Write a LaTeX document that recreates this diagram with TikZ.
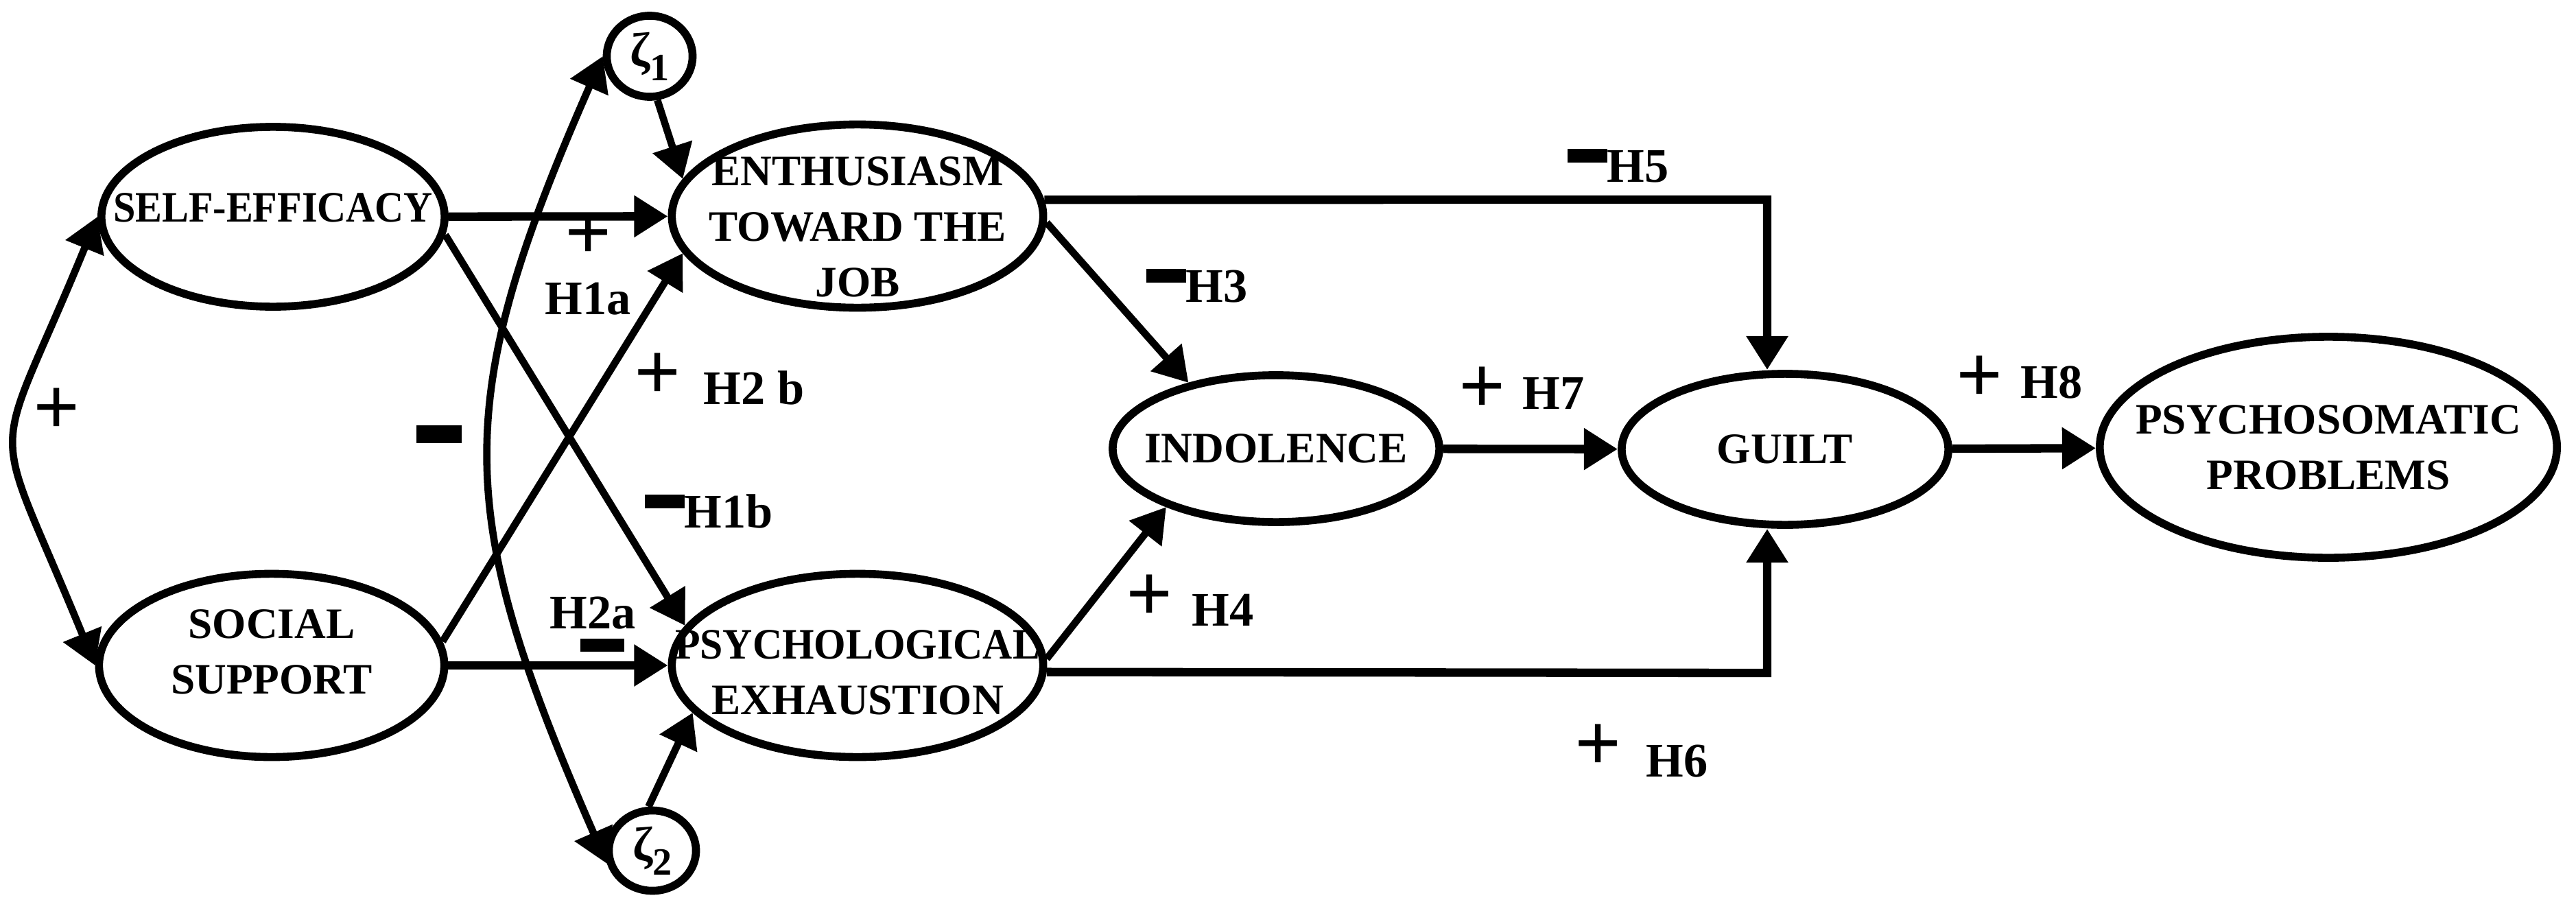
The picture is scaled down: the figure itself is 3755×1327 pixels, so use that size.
\documentclass[tikz,border=0pt]{standalone}
\usepackage{fontspec}
\setmainfont{Liberation Serif}
\usetikzlibrary{shapes.geometric,arrows.meta}
\newcommand{\minusbar}{\rule[8pt]{16.5pt}{5.6pt}}

\begin{document}
\begin{tikzpicture}[x=0.01cm,y=-0.01cm,
  latent/.style={draw,ellipse,line width=3.3pt,inner sep=0pt},
  vartext/.style={font=\fontsize{18}{23}\selectfont\bfseries,align=center},
  effect/.style={->,>={Triangle[length=14pt,width=16.5pt]},line width=3pt},
  strong/.style={effect,line width=3.5pt},
  hyplabel/.style={font=\fontsize{20}{24}\selectfont\bfseries,inner sep=0pt,anchor=base west},
  signmark/.style={font=\fontsize{34}{34}\selectfont\bfseries,inner sep=0pt,text height=17pt,text depth=0pt}]

\useasboundingbox (0,0) rectangle (3755,1327);

% latent variables
\node[latent,minimum width=5.00cm,minimum height=2.62cm,label={[vartext,yshift=0.13cm]center:\scalebox{0.92}[1]{SELF-EFFICACY}}] (se) at (398,316) {};
\node[latent,minimum width=5.03cm,minimum height=2.67cm,label={[vartext,yshift=0.2cm]center:{SOCIAL\\SUPPORT}}] (ss) at (396,970) {};
\node[latent,minimum width=5.41cm,minimum height=2.67cm,label={[vartext,yshift=-0.16cm]center:{ENTHUSIASM\\TOWARD THE\\JOB}}] (ent) at (1250,315) {};
\node[latent,minimum width=5.41cm,minimum height=2.67cm,label={[vartext,yshift=-0.1cm]center:{\scalebox{0.945}[1]{PSYCHOLOGICAL}\\EXHAUSTION}}] (pe) at (1250,970) {};
\node[latent,minimum width=4.76cm,minimum height=2.14cm,label={[vartext]center:INDOLENCE}] (ind) at (1860,654) {};
\node[latent,minimum width=4.76cm,minimum height=2.20cm,label={[vartext]center:GUILT}] (guilt) at (2602,655) {};
\node[latent,minimum width=6.66cm,minimum height=3.22cm,label={[vartext]center:{PSYCHOSOMATIC\\PROBLEMS}}] (psy) at (3394,652) {};
\node[latent,minimum width=1.25cm,minimum height=1.18cm,font=\fontsize{20}{20}\selectfont\bfseries] (z1) at (947,82) {ζ\raisebox{-6pt}{\fontsize{16}{16}\selectfont 1}};
\node[latent,minimum width=1.27cm,minimum height=1.17cm,font=\fontsize{20}{20}\selectfont\bfseries] (z2) at (951,1240) {ζ\raisebox{-6pt}{\fontsize{16}{16}\selectfont 2}};

% paths
\draw[strong] (se) -- (ent);
\draw[strong] (ss) -- (pe);
\draw[effect] (se.-6) -- (pe.167);
\draw[effect] (ss.8) -- (ent.192);
\draw[effect] (z1.-80) -- (ent.168);
\draw[effect] (z2.95) -- (pe.196);
\draw[effect,<->] (se.west) .. controls (-15,699) and (-18,587) .. (ss.west);
\draw[effect,<->] (z1.west) .. controls (655,591) and (662,749) .. (z2.196);
\draw[effect] (ent.-2) -- (ind.143);
\draw[effect] (pe.2) -- (ind.208);
\draw[strong] (ind) -- (guilt);
\draw[strong] (guilt) -- (psy);
\coordinate (c5) at (2576,291);
\coordinate (c6) at (2576,981);
\draw[strong] (ent.5) -- (c5) -- (guilt.north -| c5);
\draw[strong] (pe.-2.5) -- (c6) -- (guilt.south -| c6);

% hypotheses
\node[hyplabel] (lh1a) at (794,458) {H1a};
\node[hyplabel] (lh2b) at (1025,589) {H2 b};
\node[hyplabel] (lh1b) at (939,769) {\minusbar H1b};
\node[hyplabel] (lh2a) at (801,916) {H2a};
\node[hyplabel] (lh3) at (1670,440) {\minusbar H3};
\node[hyplabel] (lh5) at (2284,265) {\minusbar H5};
\node[hyplabel] (lh4) at (1737,912) {H4};
\node[hyplabel] (lh7) at (2219,596) {H7};
\node[hyplabel] (lh8) at (2945,580) {H8};
\node[hyplabel] (lh6) at (2399,1132) {H6};

% signs
\node[signmark] (p1a) at (858,349) {+};
\node[signmark] (p2b) at (959,553) {+};
\node[signmark] (pse) at (83,604) {+};
\node[signmark] (p4) at (1676,876) {+};
\node[signmark] (p7) at (2161,573) {+};
\node[signmark] (p8) at (2886,557) {+};
\node[signmark] (p6) at (2330,1094) {+};
\node[inner sep=0pt] (mz) at (640,633) {\rule{18.8pt}{7.4pt}};
\node[inner sep=0pt] (m2a) at (878,940) {\rule{18pt}{5.4pt}};
\end{tikzpicture}
\end{document}
